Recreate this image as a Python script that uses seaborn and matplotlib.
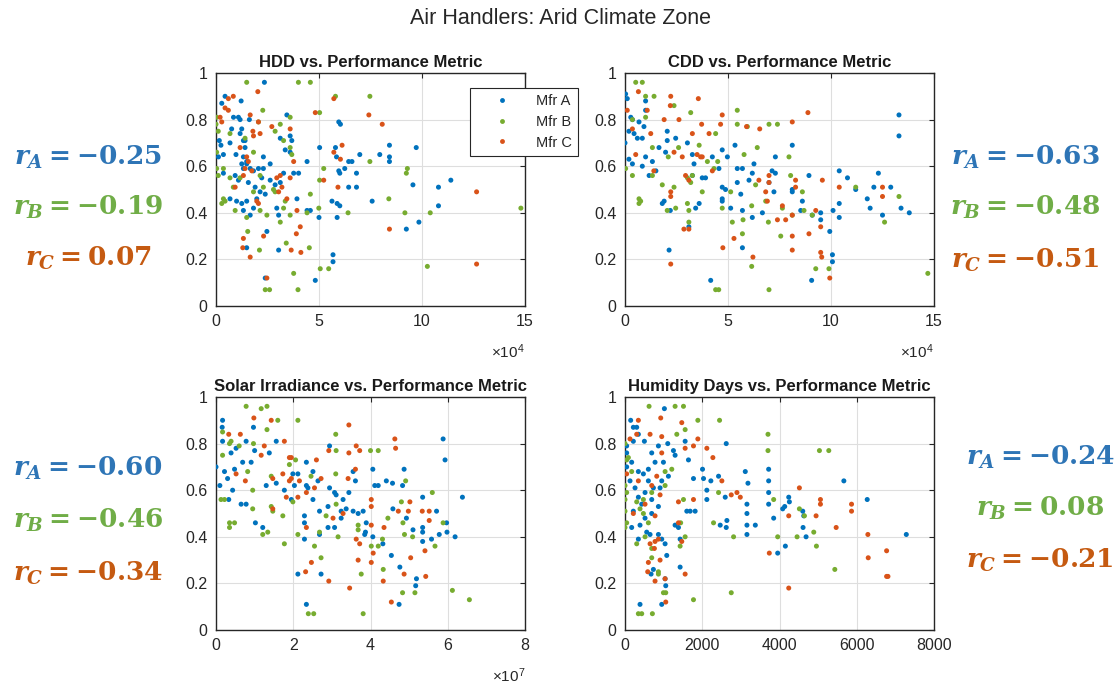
import numpy as np
import pandas as pd
import matplotlib
matplotlib.use("Agg")
import matplotlib.pyplot as plt
from matplotlib.lines import Line2D
from matplotlib.ticker import FuncFormatter, MultipleLocator
import seaborn as sns

# ---------------- data ----------------
suptitle = "Air Handlers: Arid Climate Zone"
mfrs = ["Mfr A", "Mfr B", "Mfr C"]
point_colors = {"Mfr A": "#0072BD", "Mfr B": "#77AC30", "Mfr C": "#D95319"}
text_colors = ["#2E75B6", "#70AD47", "#C55A11"]
panel_titles = ["HDD vs. Performance Metric", "CDD vs. Performance Metric",
                "Solar Irradiance vs. Performance Metric", "Humidity Days vs. Performance Metric"]

# correlation coefficients shown beside each panel (A, B, C)
r_hdd = [-0.25, -0.19, 0.07]
r_cdd = [-0.63, -0.48, -0.51]
r_solar = [-0.60, -0.46, -0.34]
r_hum = [-0.24, 0.08, -0.21]

# HDD (x in units of 1e4), performance metric
hdd_A = [(2.35,0.96),(0.44,0.90),(1.22,0.88),(0.28,0.87),(3.44,0.82),(0.85,0.81),(1.09,0.81),(1.17,0.80),
         (1.62,0.80),(0.76,0.76),(1.25,0.76),(0.16,0.71),(0.24,0.69),(1.33,0.71),(1.41,0.68),(3.12,0.72),
         (3.6,0.73),(3.68,0.71),(3.36,0.67),(3.6,0.66),(0.97,0.65),(1.33,0.64),(1.49,0.61),(1.25,0.61),
         (2.3,0.64),(2.63,0.61),(2.06,0.59),(2.3,0.59),(4.42,0.62),(5.03,0.68),(5.8,0.68),(5.85,0.64),
         (5.96,0.79),(6.04,0.78),(6.98,0.65),(7.95,0.65),(8.42,0.69),(8.42,0.64),(8.42,0.62),(6.44,0.62),
         (6.6,0.62),(6.25,0.59),(5.96,0.58),(6.01,0.57),(6.82,0.57),(9.72,0.68),(6.44,0.51),(6.82,0.51),
         (9.56,0.52),(5.63,0.45),(5.88,0.44),(6.01,0.43),(7.58,0.45),(10.8,0.51),(11.4,0.54),(10.8,0.43),
         (9.85,0.36),(9.24,0.33),(5.88,0.38),(5.0,0.38),(4.42,0.41),(4.58,0.41),(5.68,0.22),(5.68,0.19),
         (4.82,0.11),(2.39,0.12),(1.49,0.25),(2.47,0.32),(3.04,0.24),(1.33,0.41),(1.66,0.39),(1.82,0.42),
         (1.49,0.45),(1.25,0.44),(1.98,0.46),(2.14,0.49),(2.39,0.48),(1.9,0.51),(1.57,0.53),(2.95,0.42),
         (3.04,0.39),(3.93,0.46),(1.33,0.59),(1.49,0.62),(1.66,0.59),(0.93,0.56),(1.09,0.54),(1.82,0.58),
         (2.22,0.55),(2.63,0.54),(2.87,0.52),(3.12,0.53),(3.28,0.57),(3.77,0.57),(4.01,0.57),(0.68,0.46),
         (1.0,0.45),(0.36,0.65),(0.36,0.57),(0.12,0.64),(1.17,0.74),(1.41,0.71),(0.68,0.70)]
hdd_B = [(1.49,0.96),(4.0,0.96),(4.58,0.96),(5.8,0.90),(7.47,0.90),(2.27,0.84),(5.03,0.83),(0.03,0.81),
         (0.0,0.78),(0.11,0.75),(3.12,0.78),(2.87,0.75),(3.28,0.71),(3.6,0.68),(3.68,0.65),(1.41,0.72),
         (0.03,0.59),(0.11,0.56),(0.36,0.59),(0.36,0.46),(0.44,0.45),(0.28,0.44),(0.84,0.51),(0.93,0.41),
         (1.82,0.49),(2.79,0.50),(2.87,0.49),(3.36,0.45),(3.28,0.42),(3.12,0.36),(3.6,0.39),(4.42,0.40),
         (4.99,0.42),(4.58,0.48),(5.03,0.54),(5.23,0.59),(7.47,0.62),(9.29,0.59),(9.24,0.57),(8.39,0.46),
         (6.41,0.40),(9.17,0.40),(10.4,0.40),(14.8,0.42),(1.54,0.32),(2.11,0.24),(3.41,0.27),(4.53,0.25),
         (3.77,0.14),(2.39,0.07),(2.6,0.07),(3.98,0.07),(5.06,0.16),(5.47,0.16),(10.26,0.17),(3.6,0.81),
         (2.14,0.56),(2.3,0.51),(1.17,0.55),(0.68,0.55),(2.47,0.39),(2.14,0.41),(1.49,0.38),(0.03,0.66),
         (0.68,0.74),(1.82,0.66),(2.06,0.79)]
hdd_C = [(2.03,0.92),(0.84,0.90),(0.6,0.89),(0.44,0.85),(0.6,0.84),(4.82,0.83),(7.42,0.82),(8.07,0.78),
         (5.72,0.89),(2.06,0.79),(2.71,0.77),(3.6,0.76),(1.79,0.75),(1.82,0.73),(6.12,0.69),(5.72,0.66),
         (6.04,0.63),(1.49,0.64),(1.57,0.62),(1.41,0.59),(1.74,0.58),(1.33,0.56),(3.12,0.56),(3.6,0.55),
         (3.2,0.51),(3.04,0.49),(0.93,0.51),(5.23,0.54),(5.92,0.51),(1.98,0.45),(2.06,0.44),(3.44,0.46),
         (3.93,0.41),(4.09,0.34),(3.9,0.31),(1.33,0.29),(1.3,0.25),(1.66,0.21),(2.31,0.30),(3.65,0.24),
         (4.12,0.23),(2.47,0.12),(12.65,0.49),(8.42,0.33),(12.65,0.18),(0.2,0.81),(0.28,0.79),(1.17,0.68),
         (2.14,0.74),(1.66,0.82),(2.95,0.55),(3.77,0.62)]

# CDD (x in units of 1e4)
cdd_A = [(0.03,0.91),(0.11,0.89),(1.0,0.88),(1.0,0.84),(0.28,0.81),(0.36,0.80),(0.68,0.79),(0.92,0.77),
         (0.19,0.75),(0.44,0.74),(0.6,0.72),(0.84,0.72),(0.0,0.70),(0.19,0.63),(0.36,0.61),(0.84,0.60),
         (1.0,0.64),(1.33,0.62),(1.65,0.68),(1.97,0.66),(2.05,0.75),(2.05,0.71),(2.46,0.72),(3.03,0.70),
         (3.27,0.65),(3.35,0.61),(3.27,0.56),(3.75,0.55),(3.91,0.55),(4.24,0.64),(4.56,0.59),(4.72,0.67),
         (4.97,0.64),(4.72,0.51),(4.88,0.50),(4.72,0.46),(4.72,0.45),(5.34,0.69),(5.45,0.59),(5.7,0.59),
         (5.45,0.53),(5.62,0.48),(6.02,0.54),(6.18,0.57),(6.26,0.61),(5.13,0.42),(5.7,0.41),(6.18,0.38),
         (6.67,0.40),(7.3,0.64),(7.14,0.58),(7.3,0.57),(6.99,0.53),(7.23,0.49),(8.12,0.69),(8.12,0.50),
         (8.12,0.49),(8.61,0.45),(8.53,0.41),(8.93,0.56),(9.09,0.39),(9.5,0.40),(9.5,0.37),(9.94,0.32),
         (10.07,0.22),(10.07,0.19),(9.06,0.11),(10.4,0.58),(10.8,0.55),(11.2,0.50),(10.4,0.44),(10.4,0.38),
         (10.1,0.41),(11.76,0.46),(12.08,0.51),(12.3,0.57),(11.9,0.42),(12.5,0.39),(12.9,0.51),(13.3,0.82),
         (13.3,0.73),(13.4,0.42),(13.8,0.40),(2.14,0.24),(4.16,0.11),(5.7,0.25),(3.6,0.44),(3.43,0.42),
         (3.1,0.34),(1.9,0.45),(1.81,0.44),(2.2,0.41),(1.5,0.58),(1.17,0.56)]
cdd_B = [(0.52,0.96),(0.84,0.96),(0.36,0.80),(1.0,0.81),(1.41,0.90),(1.0,0.90),(2.38,0.86),(3.19,0.83),
         (5.45,0.84),(5.45,0.78),(6.99,0.78),(7.4,0.78),(5.94,0.77),(4.4,0.74),(0.03,0.59),(0.36,0.56),
         (0.68,0.46),(0.76,0.45),(0.68,0.44),(1.33,0.56),(1.81,0.52),(2.38,0.51),(2.05,0.41),(2.46,0.42),
         (3.1,0.41),(3.03,0.44),(3.1,0.36),(3.19,0.53),(3.27,0.56),(3.75,0.49),(4.32,0.59),(4.72,0.42),
         (5.13,0.49),(5.21,0.36),(5.73,0.37),(5.7,0.31),(6.15,0.17),(6.15,0.43),(6.34,0.52),(6.42,0.68),
         (6.83,0.45),(6.96,0.36),(6.99,0.07),(4.4,0.07),(4.55,0.07),(7.56,0.30),(7.64,0.42),(7.96,0.64),
         (8.04,0.56),(8.12,0.39),(8.61,0.49),(8.69,0.41),(9.09,0.39),(9.26,0.16),(9.9,0.16),(11.2,0.51),
         (12.6,0.36),(13.3,0.47),(14.7,0.14),(5.78,0.65),(1.33,0.68),(2.1,0.64),(2.6,0.68),(3.03,0.55),
         (3.6,0.69),(4.0,0.62),(4.5,0.62)]
cdd_C = [(0.65,0.92),(2.22,0.90),(3.56,0.89),(2.2,0.86),(1.08,0.84),(0.11,0.84),(1.9,0.80),(2.62,0.80),
         (3.27,0.74),(3.72,0.78),(4.64,0.78),(4.72,0.82),(5.9,0.77),(6.54,0.76),(8.12,0.79),(8.88,0.83),
         (4.08,0.74),(1.25,0.74),(2.38,0.66),(2.78,0.64),(3.5,0.65),(3.67,0.64),(3.75,0.64),(4.24,0.58),
         (2.94,0.56),(3.1,0.54),(2.22,0.49),(2.22,0.47),(2.86,0.33),(3.1,0.33),(2.22,0.18),(4.75,0.25),
         (5.29,0.29),(6.21,0.21),(6.5,0.54),(6.99,0.56),(6.99,0.53),(6.83,0.49),(6.91,0.45),(7.4,0.37),
         (7.64,0.43),(7.8,0.37),(8.12,0.39),(8.12,0.30),(8.12,0.24),(8.28,0.54),(8.28,0.51),(8.93,0.31),
         (9.26,0.41),(9.5,0.34),(9.5,0.23),(9.55,0.21),(9.58,0.54),(9.94,0.12),(10.4,0.51),(12.5,0.47),
         (12.5,0.51),(0.36,0.76),(0.52,0.65),(1.4,0.58)]

# Solar irradiance (x in units of 1e7)
sol_A = [(0.17,0.90),(0.16,0.87),(0.97,0.87),(0.17,0.81),(0.78,0.81),(0.52,0.78),(0.39,0.76),(0.69,0.72),
         (0.91,0.72),(1.0,0.77),(1.38,0.76),(1.56,0.81),(0.0,0.70),(0.22,0.68),(0.48,0.69),(0.3,0.65),
         (0.1,0.62),(0.43,0.60),(0.33,0.56),(0.65,0.54),(0.78,0.54),(1.02,0.46),(1.21,0.44),(1.3,0.62),
         (1.56,0.63),(1.77,0.60),(1.95,0.56),(1.99,0.67),(2.12,0.67),(2.03,0.62),(2.34,0.72),(2.34,0.62),
         (2.38,0.61),(2.29,0.49),(2.29,0.46),(2.29,0.39),(2.12,0.24),(2.34,0.11),(2.51,0.68),(2.64,0.64),
         (2.51,0.56),(2.68,0.51),(2.68,0.41),(2.72,0.24),(2.9,0.53),(2.94,0.61),(2.94,0.79),(3.07,0.59),
         (3.11,0.58),(3.24,0.51),(3.29,0.56),(3.37,0.52),(3.44,0.59),(3.24,0.48),(2.9,0.44),(3.07,0.44),
         (3.55,0.68),(3.61,0.64),(3.68,0.50),(3.81,0.51),(3.85,0.41),(3.87,0.42),(3.89,0.46),(4.06,0.69),
         (4.11,0.62),(4.2,0.62),(4.41,0.64),(4.57,0.63),(4.87,0.69),(4.83,0.62),(4.06,0.40),(4.32,0.37),
         (4.54,0.32),(4.58,0.52),(4.76,0.27),(4.74,0.11),(5.19,0.22),(5.17,0.19),(5.1,0.43),(5.35,0.57),
         (5.35,0.44),(5.35,0.42),(5.35,0.38),(5.58,0.39),(5.71,0.51),(5.78,0.41),(5.97,0.46),(5.98,0.42),
         (6.19,0.40),(5.88,0.82),(5.93,0.73),(6.38,0.57),(4.93,0.48),(3.55,0.51)]
sol_B = [(0.78,0.96),(1.17,0.95),(1.32,0.96),(1.6,0.90),(2.12,0.90),(1.32,0.86),(0.17,0.85),(0.39,0.81),
         (0.35,0.80),(0.17,0.75),(0.6,0.79),(0.97,0.80),(0.13,0.56),(0.22,0.56),(0.35,0.46),(0.35,0.44),
         (0.48,0.46),(0.95,0.60),(0.95,0.52),(1.21,0.41),(1.34,0.42),(0.82,0.68),(1.43,0.66),(1.43,0.53),
         (1.47,0.51),(1.73,0.49),(1.77,0.37),(2.06,0.73),(1.9,0.71),(2.12,0.41),(3.1,0.84),(3.11,0.77),
         (3.1,0.67),(3.11,0.54),(3.16,0.40),(2.85,0.49),(2.68,0.42),(2.55,0.36),(2.72,0.31),(2.39,0.07),
         (2.53,0.07),(3.68,0.45),(3.68,0.43),(3.76,0.24),(3.81,0.07),(4.0,0.77),(4.2,0.77),(4.02,0.36),
         (4.2,0.36),(4.31,0.39),(4.33,0.26),(4.45,0.48),(4.8,0.55),(4.84,0.46),(4.88,0.41),(4.91,0.64),
         (4.83,0.16),(5.15,0.16),(5.09,0.40),(5.6,0.59),(5.67,0.36),(5.88,0.46),(6.12,0.17),(6.56,0.13),
         (1.99,0.55),(2.46,0.66)]
sol_C = [(0.98,0.91),(1.43,0.90),(0.63,0.84),(0.33,0.84),(1.25,0.79),(1.77,0.81),(1.17,0.75),(1.9,0.74),
         (2.6,0.73),(2.92,0.77),(3.44,0.88),(3.44,0.76),(3.63,0.79),(3.72,0.77),(4.63,0.82),(4.65,0.78),
         (1.73,0.67),(1.47,0.65),(1.95,0.65),(1.9,0.64),(2.16,0.64),(0.76,0.64),(0.52,0.67),(1.82,0.57),
         (1.47,0.52),(2.12,0.57),(2.34,0.59),(2.55,0.61),(2.72,0.65),(2.34,0.44),(2.47,0.29),(2.32,0.25),
         (2.92,0.21),(3.46,0.18),(3.42,0.65),(3.61,0.69),(3.03,0.48),(3.29,0.50),(3.63,0.39),(3.72,0.37),
         (3.68,0.30),(4.02,0.56),(4.02,0.53),(4.02,0.45),(4.07,0.33),(4.02,0.29),(4.33,0.21),(4.35,0.44),
         (4.54,0.12),(4.72,0.51),(4.98,0.51),(4.87,0.24),(5.04,0.31),(5.41,0.34),(5.43,0.23),(5.52,0.51),
         (5.52,0.47),(5.34,0.51),(5.02,0.55),(1.95,0.74)]

# Humidity days
hum_A = [(147,0.90),(216,0.87),(303,0.87),(346,0.84),(216,0.81),(502,0.81),(43,0.79),(43,0.76),
         (173,0.72),(43,0.70),(346,0.68),(476,0.67),(605,0.69),(692,0.76),(778,0.72),(865,0.79),
         (1020,0.95),(1107,0.80),(1254,0.77),(1297,0.75),(995,0.72),(1124,0.66),(951,0.64),(908,0.61),
         (735,0.61),(605,0.64),(519,0.59),(346,0.57),(433,0.54),(216,0.51),(130,0.64),(260,0.61),
         (692,0.56),(865,0.53),(692,0.50),(519,0.48),(389,0.45),(173,0.44),(346,0.39),(562,0.42),
         (649,0.41),(865,0.41),(951,0.39),(1038,0.37),(1081,0.32),(1038,0.22),(1055,0.19),(951,0.11),
         (389,0.11),(675,0.24),(735,0.26),(1427,0.27),(1297,0.45),(1384,0.44),(1427,0.39),(1643,0.73),
         (1557,0.81),(1600,0.51),(1773,0.65),(1687,0.51),(1816,0.51),(2007,0.69),(2033,0.65),(2119,0.56),
         (2119,0.60),(2223,0.64),(2422,0.66),(2621,0.80),(2638,0.47),(2465,0.45),(2621,0.44),(2595,0.57),
         (3114,0.68),(3183,0.63),(3157,0.54),(3157,0.50),(3157,0.45),(3157,0.41),(3374,0.45),(3719,0.69),
         (3719,0.64),(3719,0.59),(3719,0.54),(3849,0.48),(3953,0.33),(4152,0.36),(4083,0.52),(4135,0.53),
         (4239,0.57),(4256,0.55),(4602,0.51),(4628,0.49),(4610,0.44),(4688,0.40),(5666,0.64),(6271,0.56),
         (7283,0.41)]
hum_B = [(623,0.96),(1297,0.96),(1514,0.96),(1886,0.90),(2448,0.90),(1341,0.84),(1557,0.86),(0,0.80),
         (87,0.74),(43,0.73),(0,0.62),(43,0.59),(0,0.56),(0,0.51),(43,0.46),(0,0.44),(303,0.55),
         (476,0.56),(389,0.52),(476,0.50),(303,0.37),(519,0.40),(605,0.46),(692,0.35),(692,0.31),
         (865,0.25),(865,0.24),(995,0.16),(1055,0.16),(346,0.07),(433,0.07),(709,0.07),(1773,0.13),
         (1038,0.68),(1211,0.69),(1038,0.62),(1514,0.56),(1427,0.36),(1557,0.40),(1441,0.46),(2292,0.46),
         (2811,0.40),(2751,0.16),(2422,0.59),(3702,0.84),(3702,0.77),(3849,0.56),(3953,0.40),(4455,0.40),
         (4515,0.52),(4645,0.49),(4887,0.42),(4956,0.36),(5034,0.77),(5276,0.77),(5432,0.26),(692,0.59),
         (173,0.68)]
hum_C = [(346,0.90),(925,0.91),(649,0.84),(951,0.83),(303,0.84),(130,0.82),(951,0.76),(1470,0.89),
         (1773,0.79),(1886,0.82),(1557,0.78),(2119,0.78),(2275,0.74),(43,0.67),(346,0.64),(692,0.62),
         (822,0.66),(519,0.54),(216,0.50),(778,0.49),(908,0.58),(1384,0.55),(1384,0.46),(1470,0.38),
         (1557,0.24),(649,0.37),(778,0.38),(865,0.39),(761,0.35),(908,0.30),(605,0.29),(588,0.25),
         (778,0.21),(1055,0.12),(1038,0.22),(2508,0.64),(2898,0.59),(2985,0.57),(2751,0.58),(3736,0.33),
         (4239,0.49),(4239,0.18),(4515,0.61),(4947,0.49),(5060,0.56),(5060,0.54),(5467,0.44),(5865,0.54),
         (5865,0.51),(6288,0.41),(6297,0.31),(6773,0.34),(6773,0.23),(6808,0.23),(1773,0.56)]

# ---------------- style ----------------
sns.set_theme(style="white")
plt.rcParams["font.family"] = ["Liberation Sans", "DejaVu Sans"]
plt.rcParams.update({
    "mathtext.fontset": "custom",
    "mathtext.it": "DejaVu Serif:italic:bold",
    "mathtext.rm": "DejaVu Serif:bold",
    "mathtext.bf": "DejaVu Serif:bold",
    "axes.edgecolor": "#262626",
    "axes.linewidth": 1.0,
    "text.color": "#262626",
})

W, H = 1120, 687
fig = plt.figure(figsize=(W / 100, H / 100), dpi=100)
fig.patch.set_facecolor("white")

def make_df(a, b, c):
    rows = []
    for name, pts in zip(mfrs, (a, b, c)):
        for x, y in pts:
            rows.append({"x": x, "y": y, "mfr": name})
    return pd.DataFrame(rows)

panels = [
    dict(rect=[216, 73], data=(hdd_A, hdd_B, hdd_C), xmax=15, xstep=5, offset="4",
         r=r_hdd, tx=88, ty=[157, 207, 258]),
    dict(rect=[625, 73], data=(cdd_A, cdd_B, cdd_C), xmax=15, xstep=5, offset="4",
         r=r_cdd, tx=1025, ty=[157, 207, 260]),
    dict(rect=[216, 397], data=(sol_A, sol_B, sol_C), xmax=8, xstep=2, offset="7",
         r=r_solar, tx=88, ty=[468, 520, 573]),
    dict(rect=[625, 397], data=(hum_A, hum_B, hum_C), xmax=8000, xstep=2000, offset=None,
         r=r_hum, tx=1040, ty=[457, 508, 560]),
]

aw, ah = 309, 233
for i, p in enumerate(panels):
    x0, ytop = p["rect"]
    ax = fig.add_axes([x0 / W, 1 - (ytop + ah) / H, aw / W, ah / H])
    df = make_df(*p["data"])
    sns.scatterplot(data=df, x="x", y="y", hue="mfr", hue_order=mfrs, palette=point_colors,
                    s=13, linewidth=0, ax=ax, legend=False, zorder=3)
    ax.set_xlim(0, p["xmax"])
    ax.set_ylim(0, 1)
    ax.xaxis.set_major_locator(MultipleLocator(p["xstep"]))
    ax.yaxis.set_major_locator(MultipleLocator(0.2))
    ax.xaxis.set_major_formatter(FuncFormatter(lambda v, pos: f"{v:g}"))
    ax.yaxis.set_major_formatter(FuncFormatter(lambda v, pos: f"{v:g}"))
    ax.set_xlabel("")
    ax.set_ylabel("")
    ax.grid(True, color="#dedede", linewidth=0.8, zorder=0)
    ax.set_axisbelow(True)
    ax.tick_params(direction="in", length=3.5, width=0.8, top=True, right=True,
                   labelsize=11.5, labelcolor="#262626", color="#262626", pad=6)
    for sp in ax.spines.values():
        sp.set_visible(True)
        sp.set_color("#262626")
        sp.set_linewidth(1.0)
    ax.set_title(panel_titles[i], fontsize=12, fontweight="bold", pad=4, color="#1a1a1a")
    if p["offset"]:
        fig.text((x0 + aw) / W, 1 - (ytop + ah + 46) / H, "×$\\mathregular{10^{" + p["offset"] + "}}$",
                 ha="right", va="center", fontsize=11, color="#262626")
    for rv, col, lab, ty in zip(p["r"], text_colors, ["A", "B", "C"], p["ty"]):
        fig.text(p["tx"] / W, 1 - ty / H, f"$r_{{{lab}}} = {rv:.2f}$", color=col,
                 fontsize=19, ha="center", va="center")
    if i == 0:
        handles = [Line2D([], [], marker="o", ls="", markersize=3.5, markeredgewidth=0,
                          color=point_colors[m]) for m in mfrs]
        leg = ax.legend(handles, mfrs, loc="center", bbox_to_anchor=(524 / W, 1 - 122 / H),
                        bbox_transform=fig.transFigure, fontsize=10.5, frameon=True,
                        fancybox=False, framealpha=1, edgecolor="#262626",
                        handlelength=3.6, handletextpad=0.5, borderpad=0.45, labelspacing=0.45)
        leg.get_frame().set_linewidth(0.8)
        leg.set_zorder(10)

fig.suptitle(suptitle, y=1 - 18 / H, va="center", fontsize=15.5, color="#262626")
fig.savefig("out.png", dpi=100, facecolor="white")
